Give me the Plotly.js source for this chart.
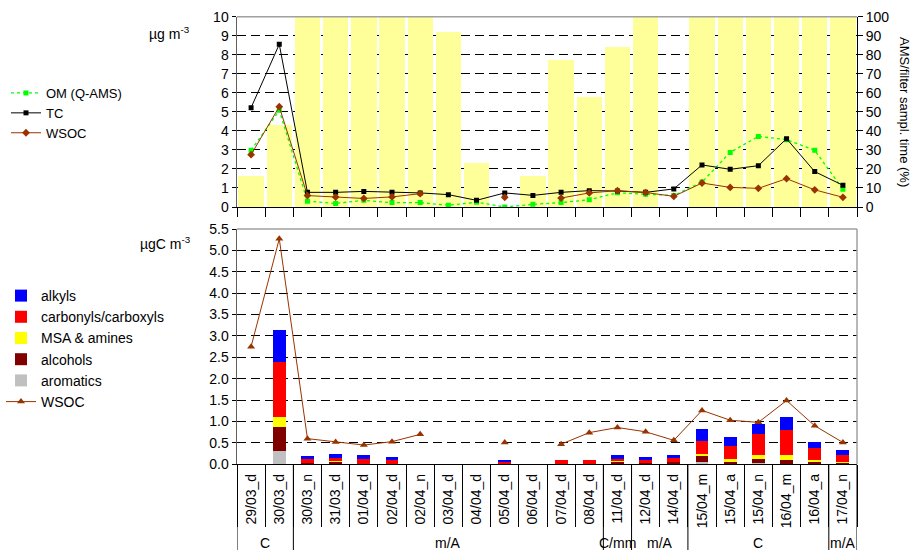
<!DOCTYPE html>
<html>
<head>
<meta charset="utf-8">
<script src="https://cdn.plot.ly/plotly-3.0.1.min.js"></script>
<style>
html,body{margin:0;padding:0;background:#fff;}
#chart{width:912px;height:550px;}
</style>
</head>
<body>
<div id="chart"></div>
<script>
// ---- data ----
var categories = ['29/03_d','30/03_d','30/03_n','31/03_d','01/04_d','02/04_d','02/04_n','03/04_d','04/04_d','05/04_d','06/04_d','07/04_d','08/04_d','11/04_d','12/04_d','14/04_d','15/04_m','15/04_a','15/04_n','16/04_m','16/04_a','17/04_n'];

// top panel
var samplTime = [16.5, 43, 100, 100, 100, 100, 100, 92, 23, 0, 16.5, 77, 58, 84, 100, 0, 100, 100, 100, 100, 100, 100];
var omQams = [2.98, 5.08, 0.30, 0.19, 0.35, 0.23, 0.23, 0.09, 0.25, 0.0, 0.14, 0.23, 0.38, 0.75, 0.67, 0.61, 1.31, 2.87, 3.71, 3.54, 2.98, 0.93];
var tc = [5.22, 8.55, 0.77, 0.77, 0.82, 0.77, 0.74, 0.65, 0.35, 0.74, 0.61, 0.77, 0.86, 0.84, 0.77, 0.95, 2.21, 1.98, 2.17, 3.59, 1.86, 1.14];
var wsoc = [2.75, 5.27, 0.60, 0.52, 0.45, 0.53, 0.70, null, null, 0.51, null, 0.47, 0.74, 0.86, 0.76, 0.56, 1.26, 1.03, 0.98, 1.49, 0.90, 0.51];

// bottom panel (stacked functional groups)
var aromatics = [null, 0.31, null, null, null, null, null, null, null, null, null, null, null, null, null, null, 0.055, null, 0.02, null, null, null];
var alcohols = [null, 0.56, 0.02, 0.055, 0.01, 0.01, null, null, null, null, null, null, 0.005, 0.05, 0.02, 0.05, 0.14, 0.055, 0.10, 0.10, 0.055, 0.03];
var msaAmines = [null, 0.23, null, 0.025, null, null, null, null, null, null, null, null, null, 0.02, null, null, 0.055, 0.07, 0.09, 0.12, 0.045, 0.03];
var carbonyls = [null, 1.29, 0.10, 0.06, 0.11, 0.10, null, null, null, 0.06, null, 0.09, 0.085, 0.06, 0.09, 0.09, 0.30, 0.31, 0.50, 0.59, 0.29, 0.16];
var alkyls = [null, 0.75, 0.08, 0.09, 0.09, 0.05, null, null, null, 0.03, null, 0.015, 0.02, 0.08, 0.05, 0.07, 0.28, 0.20, 0.23, 0.30, 0.13, 0.12];

// category groups under the axis
var groupLabels = ['C', 'm/A', 'C/mm', 'm/A', 'C', 'm/A'];
var groupStart = [0, 2, 13, 14, 16, 21];
var groupEnd = [1, 12, 13, 15, 20, 21];

// ---- styling / layout ----
var W = 912, H = 550;
var FONT = 'Liberation Sans, Arial, sans-serif';
var xDom = [237 / W, 857 / W];
var yTop = [1 - 207 / H, 1 - 16.7 / H];
var yBot = [1 - 464.3 / H, 1 - 229 / H];
var GRIDDASH = '9px,5px';

var traces = [
  {type: 'bar', x: categories, y: samplTime, xaxis: 'x', yaxis: 'y',
   marker: {color: '#FFFF99', line: {width: 0}}, width: 0.9, showlegend: false, hoverinfo: 'y'},
  {type: 'scatter', mode: 'lines+markers', name: 'OM (Q-AMS)', x: categories, y: omQams, xaxis: 'x', yaxis: 'y2',
   line: {color: '#00FF00', width: 1.3, dash: 'dot'}, marker: {symbol: 'square', size: 5, color: '#00FF00'}, legend: 'legend'},
  {type: 'scatter', mode: 'lines+markers', name: 'TC', x: categories, y: tc, xaxis: 'x', yaxis: 'y2',
   line: {color: '#000000', width: 1}, marker: {symbol: 'square', size: 5, color: '#000000'}, legend: 'legend'},
  {type: 'scatter', mode: 'lines+markers', name: 'WSOC', x: categories, y: wsoc, xaxis: 'x', yaxis: 'y2',
   connectgaps: false,
   line: {color: '#993300', width: 1}, marker: {symbol: 'diamond', size: 6, color: '#993300'}, legend: 'legend'},

  {type: 'bar', name: 'aromatics', x: categories, y: aromatics, xaxis: 'x2', yaxis: 'y3', width: 0.46,
   marker: {color: '#C0C0C0'}, legend: 'legend2', legendrank: 5},
  {type: 'bar', name: 'alcohols', x: categories, y: alcohols, xaxis: 'x2', yaxis: 'y3', width: 0.46,
   marker: {color: '#800000'}, legend: 'legend2', legendrank: 4},
  {type: 'bar', name: 'MSA & amines', x: categories, y: msaAmines, xaxis: 'x2', yaxis: 'y3', width: 0.46,
   marker: {color: '#FFFF00'}, legend: 'legend2', legendrank: 3},
  {type: 'bar', name: 'carbonyls/carboxyls', x: categories, y: carbonyls, xaxis: 'x2', yaxis: 'y3', width: 0.46,
   marker: {color: '#FF0000'}, legend: 'legend2', legendrank: 2},
  {type: 'bar', name: 'alkyls', x: categories, y: alkyls, xaxis: 'x2', yaxis: 'y3', width: 0.46,
   marker: {color: '#0000FF'}, legend: 'legend2', legendrank: 1},
  {type: 'scatter', mode: 'lines+markers', name: 'WSOC', x: categories, y: wsoc, xaxis: 'x2', yaxis: 'y3',
   connectgaps: false,
   line: {color: '#993300', width: 1}, marker: {symbol: 'triangle-up', size: 7, color: '#993300'}, legend: 'legend2', legendrank: 6}
];

// group separators & labels
var shapes = [];
var annotations = [];
var bounds = [];
for (var g = 0; g < groupLabels.length; g++) {
  bounds.push(groupStart[g] - 0.5);
  annotations.push({
    text: groupLabels[g], xref: 'x2', yref: 'paper',
    x: (groupStart[g] + groupEnd[g]) / 2, y: 1 - 543 / H,
    xanchor: 'center', yanchor: 'middle', showarrow: false,
    font: {family: FONT, size: 14, color: '#000'}
  });
}
bounds.push(groupEnd[groupEnd.length - 1] + 0.5);
bounds.forEach(function (b) {
  shapes.push({type: 'line', xref: 'x2', yref: 'paper', x0: b, x1: b, y0: 0, y1: yBot[0],
    line: {color: '#000', width: 1}});
});
// plot-area borders (grey) like the original
shapes.push({type: 'line', xref: 'paper', yref: 'paper', x0: xDom[0], x1: xDom[1], y0: yTop[1], y1: yTop[1],
  line: {color: '#A0A0A0', width: 1.5}, layer: 'above'});
shapes.push({type: 'line', xref: 'paper', yref: 'paper', x0: xDom[0], x1: xDom[1], y0: yBot[1], y1: yBot[1],
  line: {color: '#A0A0A0', width: 1.5}, layer: 'above'});
shapes.push({type: 'line', xref: 'paper', yref: 'paper', x0: xDom[1], x1: xDom[1], y0: yBot[0], y1: yBot[1],
  line: {color: '#A0A0A0', width: 1.5}, layer: 'above'});

annotations.push({text: 'µg m<sup>-3</sup>', xref: 'paper', yref: 'paper', x: 192 / W, y: 1 - 33 / H,
  xanchor: 'right', yanchor: 'middle', showarrow: false, font: {family: FONT, size: 14, color: '#000'}});
annotations.push({text: 'µgC m<sup>-3</sup>', xref: 'paper', yref: 'paper', x: 193 / W, y: 1 - 243 / H,
  xanchor: 'right', yanchor: 'middle', showarrow: false, font: {family: FONT, size: 14, color: '#000'}});
annotations.push({text: 'AMS/filter sampl. time (%)', xref: 'paper', yref: 'paper', x: 904 / W, y: 1 - 112 / H,
  xanchor: 'center', yanchor: 'middle', textangle: 90, showarrow: false, font: {family: FONT, size: 13, color: '#000'}});

var axisFont = {family: FONT, size: 14, color: '#000'};

var layout = {
  width: W, height: H,
  margin: {l: 0, r: 0, t: 0, b: 0, pad: 0, autoexpand: false},
  paper_bgcolor: '#fff', plot_bgcolor: 'rgba(0,0,0,0)',
  font: {family: FONT, color: '#000'},
  barmode: 'stack',
  xaxis: {domain: xDom, anchor: 'y', type: 'category', range: [-0.5, categories.length - 0.5],
    showticklabels: false, ticks: 'outside', tickson: 'boundaries', ticklen: 9, tickcolor: '#000',
    showline: true, linecolor: '#000', linewidth: 1, showgrid: false, zeroline: false, fixedrange: true},
  yaxis: {domain: yTop, anchor: 'x', side: 'right', range: [0, 100], dtick: 10, tick0: 0,
    ticks: 'outside', ticklen: 5, tickcolor: '#000', tickfont: axisFont,
    showline: true, linecolor: '#000', linewidth: 1,
    showgrid: true, gridcolor: '#000', gridwidth: 1, griddash: GRIDDASH, zeroline: false},
  yaxis2: {overlaying: 'y', anchor: 'x', side: 'left', range: [0, 10], dtick: 1, tick0: 0,
    ticks: 'outside', ticklen: 4, tickcolor: '#000', tickfont: axisFont,
    showline: true, linecolor: '#606060', linewidth: 1.5, showgrid: false, zeroline: false},
  xaxis2: {domain: xDom, anchor: 'y3', type: 'category', range: [-0.5, categories.length - 0.5],
    ticks: 'outside', tickson: 'boundaries', ticklen: 62, tickcolor: '#000', tickwidth: 1,
    tickangle: -90, tickfont: {family: FONT, size: 14, color: '#000'}, ticklabelstandoff: 3,
    showline: true, linecolor: '#000', linewidth: 1, showgrid: false, zeroline: false},
  yaxis3: {domain: yBot, anchor: 'x2', range: [0, 5.5], dtick: 0.5, tick0: 0, tickformat: '.1f',
    ticks: 'outside', ticklen: 4, tickcolor: '#000', tickfont: axisFont,
    showline: true, linecolor: '#606060', linewidth: 1.5,
    showgrid: true, gridcolor: '#000', gridwidth: 1, griddash: GRIDDASH, zeroline: false},
  legend: {xref: 'paper', yref: 'paper', x: 6 / W, y: 1 - 78 / H, xanchor: 'left', yanchor: 'top',
    bgcolor: 'rgba(0,0,0,0)', borderwidth: 0, traceorder: 'normal',
    font: {family: FONT, size: 13, color: '#000'}},
  legend2: {xref: 'paper', yref: 'paper', x: 1 / W, y: 1 - 280 / H, xanchor: 'left', yanchor: 'top',
    bgcolor: 'rgba(0,0,0,0)', borderwidth: 0, traceorder: 'normal',
    font: {family: FONT, size: 14, color: '#000'}},
  shapes: shapes,
  annotations: annotations
};

Plotly.newPlot('chart', traces, layout, {displayModeBar: false, staticPlot: true});
</script>
</body>
</html>
